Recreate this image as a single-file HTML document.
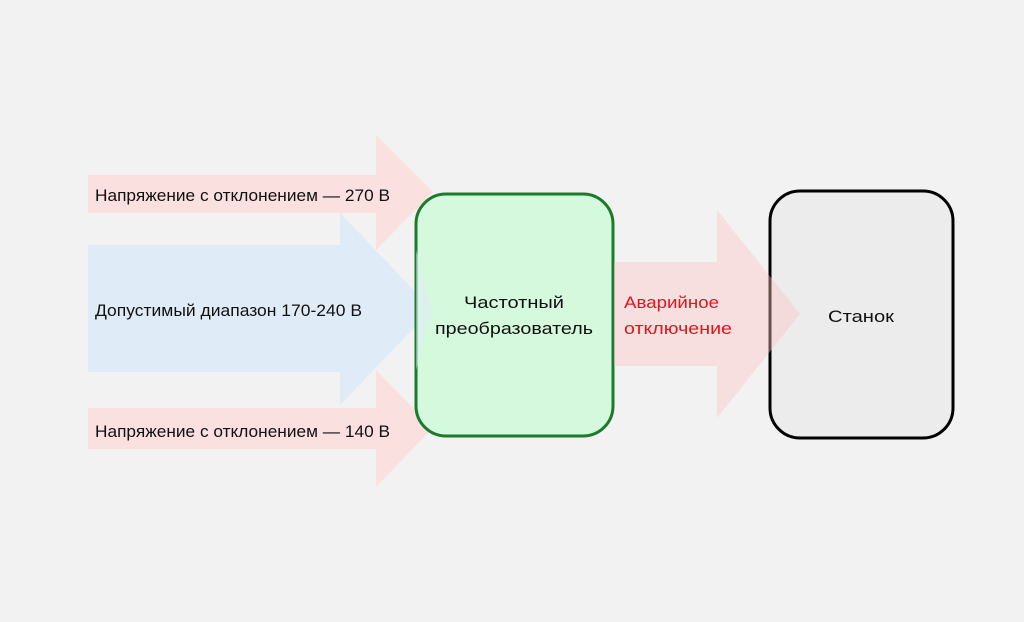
<!DOCTYPE html>
<html><head><meta charset="utf-8"><style>
html,body{margin:0;padding:0;background:#f2f2f2;}
svg{display:block}
text{font-family:"Liberation Sans","DejaVu Sans",sans-serif;font-size:17px;fill:#111;}
</style></head><body>
<svg width="1024" height="622" viewBox="0 0 1024 622">
<rect width="1024" height="622" fill="#f2f2f2"/>
<polygon points="88,175 376,175 376,135 433,192 376,250 376,213 88,213" fill="#fbe0e0"/>
<polygon points="88,408 376,408 376,370 433,428 376,487 376,449 88,449" fill="#fbe0e0"/>
<polygon points="88,245 340,245 340,213 432,309 340,405 340,372 88,372" fill="#dfebf6"/>
<rect x="416" y="194" width="197" height="242" rx="30" fill="#d5f9dc" stroke="#1c7a2c" stroke-width="3"/>
<polygon points="416,250 432,309 416,370" fill="#dfebf6" opacity="0.5"/>
<rect x="770" y="191" width="183" height="247" rx="30" fill="#ececec" stroke="#000" stroke-width="3"/>
<polygon points="614,262 717,262 717,210 800,314 717,418 717,366 614,366" fill="#ffc4c4" opacity="0.4"/>
<text x="95" y="201" textLength="295" lengthAdjust="spacingAndGlyphs">Напряжение с отклонением — 270 В</text>
<text x="95" y="316" textLength="267" lengthAdjust="spacingAndGlyphs">Допустимый диапазон 170-240 В</text>
<text x="95" y="437" textLength="295" lengthAdjust="spacingAndGlyphs">Напряжение с отклонением — 140 В</text>
<text x="514" y="308" text-anchor="middle" textLength="100" lengthAdjust="spacingAndGlyphs">Частотный</text>
<text x="514" y="334" text-anchor="middle" textLength="158" lengthAdjust="spacingAndGlyphs">преобразователь</text>
<text x="624" y="308" style="fill:#e0141e" textLength="95" lengthAdjust="spacingAndGlyphs">Аварийное</text>
<text x="624" y="334" style="fill:#e0141e" textLength="108" lengthAdjust="spacingAndGlyphs">отключение</text>
<text x="861" y="322" text-anchor="middle" textLength="66" lengthAdjust="spacingAndGlyphs">Станок</text>
</svg>
</body></html>
